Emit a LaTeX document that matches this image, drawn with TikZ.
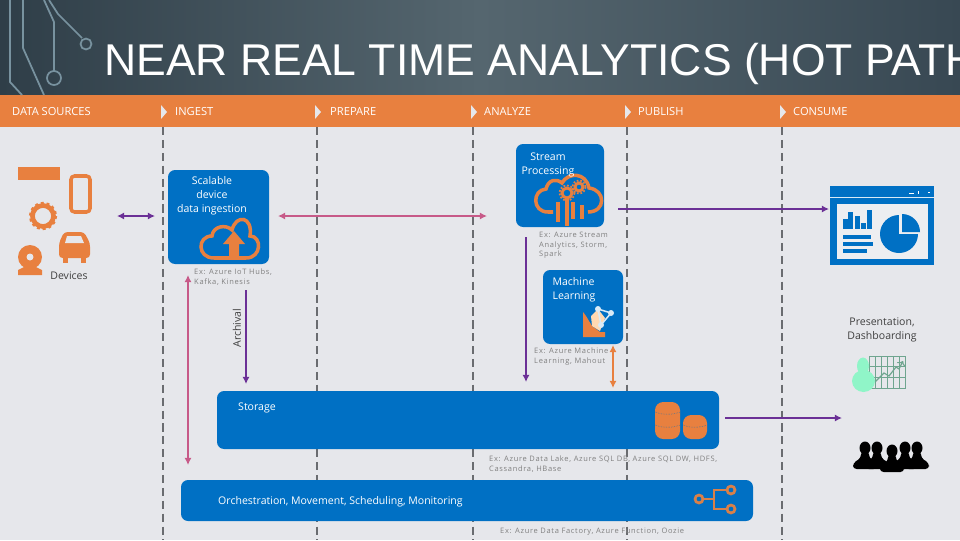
\documentclass[tikz,border=0pt]{standalone}
\usepackage{fontspec}
\setmainfont{Open Sans}
\newfontfamily\titlefont{Liberation Sans}
\newfontfamily\exfont[LetterSpace=9]{Open Sans}
\usepackage{tikz}
\usetikzlibrary{positioning, arrows.meta, shapes.geometric}
\definecolor{hotorange}{HTML}{E8803F}
\definecolor{hotblue}{HTML}{0070C4}
\definecolor{hotpurple}{HTML}{6B3096}
\definecolor{hotpink}{HTML}{C75A88}
\definecolor{hotback}{HTML}{E6E7EB}
\definecolor{hotdash}{HTML}{6A6C70}
\definecolor{hottrace}{HTML}{78929F}
\definecolor{hotmint}{HTML}{90F5C8}
\definecolor{hotchart}{HTML}{6FA58F}
\definecolor{headleft}{HTML}{2F3E48}
\definecolor{headmid}{HTML}{55666F}
\definecolor{headright}{HTML}{384853}
\tikzset{
    bluebox/.style={fill=hotblue, rounded corners=6},
    boxtext/.style={text=white, font=\fontsize{9}{12.1}\selectfont, align=center},
    phase/.style={text=white, font=\fontsize{9.5}{10}\selectfont, anchor=west},
    extext/.style={text=black!50, font=\exfont\fontsize{6.4}{8.2}\selectfont, align=left, anchor=north west},
    darktext/.style={text=black!75, font=\fontsize{9}{12.1}\selectfont, align=center},
    flow/.style={line width=2.1pt, >={Latex[length=6pt,width=6pt]}},
    lane/.style={hotdash, line width=2.4pt, dash pattern=on 7pt off 4pt},
    trace/.style={hottrace, line width=1.5pt},
}
\begin{document}
\begin{tikzpicture}[x=0.3mm, y=-0.3mm]
    \useasboundingbox (0,0) rectangle (960,540);
    \begin{scope}
    \clip (0,0) rectangle (960,540);
    % Header and background
    \fill[hotback] (0,95) rectangle (960,540);
    \shade[left color=headleft, right color=headright, middle color=headmid] (0,0) rectangle (960,95);
    \fill[hotorange] (0,95) rectangle (960,127);

    % Circuit traces
    \draw[trace] (10,0) -- (10,82) -- (22,95);
    \draw[trace] (23,0) -- (23,48) -- (44,95);
    \draw[trace] (44,0) -- (54,22) -- (54,71);
    \draw[trace] (54,78) circle[radius=7];
    \draw[trace] (49,0) -- (58,14) -- (82,38);
    \draw[trace] (86,44) circle[radius=5.5];

    \node[text=white, font=\titlefont\fontsize{38}{38}\selectfont, anchor=west, inner sep=0] (title) at (104,64) {NEAR REAL TIME ANALYTICS (HOT PATH};

    % Phases
    \node[phase, inner sep=0] (sources) at (12,112) {DATA SOURCES};
    \foreach \x/\l/\name/\lab in {175/163/ingest/INGEST, 330/317/prepare/PREPARE, 484/473/analyze/ANALYZE, 638/627/publish/PUBLISH, 793/782/consume/CONSUME} {
        \node[phase, inner sep=0] (\name) at (\x,112) {\lab};
        \fill[hotback] (\l-2,105) -- (\l+4,112) -- (\l-2,119) -- cycle;
        \draw[lane] (\l,127) -- (\l,540);
    }

    % Boxes
    \fill[bluebox] (168,170) rectangle (269,264);
    \fill[bluebox] (516,144) rectangle (604,227);
    \fill[bluebox] (543,270) rectangle (623,344);
    \fill[bluebox] (217,391) rectangle (719,449);
    \fill[bluebox] (181,480) rectangle (753,521);

    % Ingestion cloud
    \draw[hotorange, line width=3pt] (214,258) .. controls (197,258) and (197,236) .. (212,236)
        .. controls (213,226) and (226,224) .. (232,230)
        .. controls (236,214) and (253,216) .. (250,236)
        .. controls (262,236) and (262,258) .. (246,258) -- cycle;
    \fill[hotorange] (234,231) -- (245,244) -- (239,244) -- (239,257) -- (229,257) -- (229,244) -- (223,244) -- cycle;

    % Stream cloud
    \draw[hotorange, line width=3pt] (553,212) -- (548,212) .. controls (532,212) and (532,190) .. (546,189)
        .. controls (548,180) and (556,178) .. (562,183)
        .. controls (568,172) and (586,172) .. (589,188)
        .. controls (606,190) and (606,212) .. (588,212);
    \foreach \x/\t/\b in {558/202/222, 567/198/226, 573/202/219, 582/205/219} {
        \draw[hotorange, line width=3pt] (\x,\t) -- (\x,\b);
    }
    \foreach \x/\y/\r in {567/193/5, 579/187/4} {
        \draw[hotorange, line width=2.5pt] (\x,\y) circle[radius=\r];
        \draw[hotorange, line width=1.5pt, dash pattern=on 1.5pt off 1.5pt] (\x,\y) circle[radius=\r+2.5];
    }

    \node[boxtext] (ingestion) at (212,196) {Scalable\\device\\data ingestion};
    \node[boxtext] (stream) at (548,165) {Stream\\Processing};
    \node[boxtext, align=left] (learning) at (574,290) {Machine\\Learning};
    \node[boxtext, anchor=west, inner sep=0] (storage) at (238,408) {Storage};
    \node[boxtext, anchor=west, inner sep=0] (orchestration) at (218,502) {Orchestration, Movement, Scheduling, Monitoring};

    \node[extext, inner sep=0] (exingest) at (194,269) {Ex: Azure IoT Hubs,\\Kafka, Kinesis};
    \node[extext, inner sep=0] (exstream) at (539,232) {Ex: Azure Stream\\Analytics, Storm,\\Spark};
    \node[extext, inner sep=0] (exlearn) at (534,348) {Ex: Azure Machine\\Learning, Mahout};
    \node[extext, inner sep=0] (exstore) at (489,456) {Ex: Azure Data Lake, Azure SQL DB, Azure SQL DW, HDFS,\\Cassandra, HBase};
    \node[extext, inner sep=0] (exorch) at (500,528) {Ex: Azure Data Factory, Azure Function, Oozie};
    \node[darktext, inner sep=0] (devices) at (69,276) {Devices};
    \node[darktext, inner sep=0] (presentation) at (882,330) {Presentation,\\Dashboarding};
    \node[darktext, rotate=90, inner sep=0] (archival) at (237,328) {Archival};

    % Connectors
    \coordinate (a1) at (117,216); \coordinate (a2) at (155,216);
    \coordinate (b1) at (278,216); \coordinate (b2) at (487,216);
    \coordinate (c1) at (618,209); \coordinate (c2) at (829,209);
    \coordinate (d1) at (526,237); \coordinate (d2) at (526,382);
    \coordinate (e1) at (613,345); \coordinate (e2) at (613,388);
    \coordinate (f1) at (188,275); \coordinate (f2) at (188,465);
    \coordinate (g1) at (246,290); \coordinate (g2) at (246,384);
    \coordinate (h1) at (725,418); \coordinate (h2) at (842,418);
    \draw[flow, hotpurple, <->] (a1) -- (a2);
    \draw[flow, hotpink, <->] (b1) -- (b2);
    \draw[flow, hotpurple, ->] (c1) -- (c2);
    \draw[flow, hotpurple, ->] (d1) -- (d2);
    \draw[flow, hotorange, <->] (e1) -- (e2);
    \draw[flow, hotpink, <->] (f1) -- (f2);
    \draw[flow, hotpurple, ->] (g1) -- (g2);
    \draw[flow, hotpurple, ->] (h1) -- (h2);

    % Device icons
    \fill[hotorange] (18,167) rectangle (60,180);
    \draw[hotorange, line width=3pt, rounded corners=3, fill=hotback] (71,176) rectangle (90,212);
    \draw[hotorange, line width=4pt] (43,216) circle[radius=10.5];
    \draw[hotorange, line width=2pt, dash pattern=on 2.5pt off 2.5pt] (43,216) circle[radius=13];
    \fill[hotorange, rounded corners=3] (59,243) -- (64,232) -- (84,232) -- (90,243) -- (90,258) -- (59,258) -- cycle;
    \fill[hotorange] (63,258) rectangle (68,263);
    \fill[hotorange] (81,258) rectangle (86,263);
    \fill[hotback] (67,236) -- (81,236) -- (84,243) -- (65,243) -- cycle;
    \fill[hotorange] (30,257) circle[radius=12];
    \fill[hotback] (30,257) circle[radius=3.5];
    \fill[hotorange] (18,275) -- (18,270) -- (26,266) -- (34,266) -- (42,270) -- (42,275) -- cycle;

    % Machine learning icon
    \fill[hotorange] (583,312) -- (586,316) -- (592,326) -- (600,332) -- (605,332) -- (605,337) -- (583,337) -- cycle;
    \fill[orange!30!white] (591,316) -- (598,309) -- (605,318) -- (600,331) -- (592,326) -- cycle;
    \draw[white!85!hotblue, line width=1.3pt] (598,309) -- (611,313) -- (601,325) -- cycle;
    \foreach \x/\y in {598/309, 611/313, 601/325} {
        \fill[white!85!hotblue] (\x,\y) circle[radius=3];
    }

    % Storage cylinders
    \foreach \x/\t/\w in {655/402/25, 683/415/24} {
        \fill[hotorange, rounded corners=7] (\x,\t) rectangle (\x+\w,439);
    }
    \draw[hotblue, densely dotted, line width=0.4pt] (655,412) .. controls (662,415) and (673,415) .. (680,412);
    \draw[hotblue, densely dotted, line width=0.4pt] (655,425) .. controls (662,428) and (673,428) .. (680,425);
    \draw[hotblue, densely dotted, line width=0.4pt] (683,425) .. controls (690,428) and (700,428) .. (707,425);

    % Orchestration icon
    \draw[hotorange!85!gray, line width=2.3pt] (703,499) -- (714,499);
    \draw[hotorange!85!gray, line width=2.3pt] (727,490) -- (714,490) -- (714,509) -- (727,509);
    \foreach \x/\y in {699/499, 731/490, 731/509} {
        \draw[hotorange!85!gray, line width=2.3pt] (\x,\y) circle[radius=4];
    }

    % Dashboard window
    \fill[hotblue] (830,186) rectangle (934,265);
    \fill[white!85!hotblue] (830,197) rectangle (934,198);
    \fill[hotback!70!white] (837,204) rectangle (928,259);
    \fill[white] (909,193) rectangle (914,194);
    \fill[white] (918,191) rectangle (919,194);
    \fill[white] (928,192) rectangle (930,193);
    \foreach \x/\t in {843/219, 848/212, 855/216, 861/223, 867/210} {
        \fill[hotblue] (\x,\t) rectangle (\x+5,229);
    }
    \foreach \y/\e in {235/871, 242/873, 249/867} {
        \fill[hotblue] (843,\y) rectangle (\e,\y+4);
    }
    \fill[hotblue] (899,234) circle[radius=19];
    \fill[hotback!70!white] (899,214) rectangle (920,234);
    \fill[hotblue] (902,232) -- ++(18,0) arc[start angle=0, end angle=-90, radius=18] -- cycle;

    % Presentation icon
    \draw[hotchart, line width=0.7pt] (869,356) rectangle (905,388);
    \foreach \x in {875,881,887,893,899} {
        \draw[hotchart, line width=0.5pt] (\x,356) -- (\x,388);
    }
    \foreach \y in {366,377} {
        \draw[hotchart, line width=0.5pt] (869,\y) -- (905,\y);
    }
    \draw[hotchart, line width=1pt, ->] (875,382) -- (884,373) -- (889,376) -- (896,367) -- (899,369) -- (903,361);
    \fill[hotmint] (863,366) ellipse[x radius=6, y radius=8.5];
    \fill[hotmint] (863.5,381) ellipse[x radius=11.5, y radius=11];

    % Audience icon
    \foreach \x/\y in {865/442, 877/442, 905/442, 917/442, 892/445} {
        \fill[black] (\x,\y+6) ellipse[x radius=5.5, y radius=6.5];
        \fill[black, rounded corners=3] (\x-12,\y+27) -- (\x-12,\y+21) -- (\x-4,\y+16) -- (\x-4,\y+9) -- (\x+4,\y+9) -- (\x+4,\y+16) -- (\x+12,\y+21) -- (\x+12,\y+27) -- cycle;
    }
    \end{scope}
\end{tikzpicture}
\end{document}
